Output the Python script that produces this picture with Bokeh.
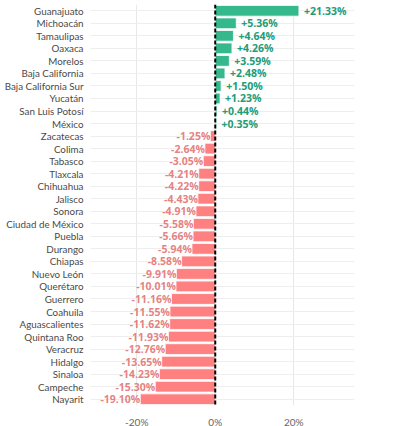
from bokeh.plotting import figure
from bokeh.models import ColumnDataSource, FactorRange, Span, FixedTicker, CustomJSTickFormatter
from bokeh.core.properties import value
from bokeh.embed import file_html
from bokeh.resources import INLINE

states = ["Guanajuato", "Michoacán", "Tamaulipas", "Oaxaca", "Morelos", "Baja California",
          "Baja California Sur", "Yucatán", "San Luis Potosí", "México", "Zacatecas", "Colima",
          "Tabasco", "Tlaxcala", "Chihuahua", "Jalisco", "Sonora", "Ciudad de México", "Puebla",
          "Durango", "Chiapas", "Nuevo León", "Querétaro", "Guerrero", "Coahuila",
          "Aguascalientes", "Quintana Roo", "Veracruz", "Hidalgo", "Sinaloa", "Campeche", "Nayarit"]
changes = [21.33, 5.36, 4.64, 4.26, 3.59, 2.48, 1.50, 1.23, 0.44, 0.35, -1.25, -2.64,
           -3.05, -4.21, -4.22, -4.43, -4.91, -5.58, -5.66, -5.94, -8.58, -9.91, -10.01,
           -11.16, -11.55, -11.62, -11.93, -12.76, -13.65, -14.23, -15.30, -19.10]
x_ticks = [-20, 0, 20]

POS_BAR, NEG_BAR = "#35b98c", "#ff8080"
POS_TXT, NEG_TXT = "#229c77", "#e27272"

labels = [f"{v:+.2f}%" for v in changes]
fills = [POS_BAR if v >= 0 else NEG_BAR for v in changes]
src = ColumnDataSource(dict(state=states, val=changes, zero=[0] * len(changes), fill=fills))
pos = ColumnDataSource(dict(state=[s for s, v in zip(states, changes) if v >= 0],
                            val=[v for v in changes if v >= 0],
                            label=[l for l, v in zip(labels, changes) if v >= 0]))
neg = ColumnDataSource(dict(state=[s for s, v in zip(states, changes) if v < 0],
                            val=[v for v in changes if v < 0],
                            label=[l for l, v in zip(labels, changes) if v < 0]))

p = figure(frame_width=264, frame_height=401, output_backend="svg", toolbar_location=None,
           y_range=FactorRange(*reversed(states), range_padding=0),
           x_range=(-31.8, 35.5), min_border_left=90, min_border_right=38,
           min_border_top=4, min_border_bottom=20)
p.outline_line_color = None
p.background_fill_color = "white"

p.hbar(y="state", left="zero", right="val", height=0.86, fill_color="fill",
       line_color="white", line_width=0.8, source=src)

p.text(x="val", y="state", text="label", source=pos, x_offset=5, text_align="left",
       text_baseline="middle", text_color=POS_TXT, text_font_size="10.5px",
       text_font=value("Open Sans"), text_font_style="bold")
p.text(x="val", y="state", text="label", source=neg, x_offset=0, text_align="right",
       text_baseline="middle", text_color=NEG_TXT, text_font_size="10.5px",
       text_font=value("Open Sans"), text_font_style="bold", text_alpha=0.9)

p.add_layout(Span(location=0, dimension="height", line_color="black",
                  line_width=2, line_dash="4 2"))

p.xaxis.ticker = FixedTicker(ticks=x_ticks)
p.xaxis.formatter = CustomJSTickFormatter(code="return tick + '%';")
for ax in (p.xaxis, p.yaxis):
    ax.axis_line_color = None
    ax.major_tick_line_color = None
    ax.minor_tick_line_color = None
    ax.major_label_text_font = "Lato"
p.yaxis.major_label_text_font_size = "9.8px"
p.xaxis.major_label_text_font_size = "10px"
p.xaxis.major_label_text_color = "#666666"
p.yaxis.major_label_text_color = "#4a4a4a"
p.yaxis.major_label_standoff = 1
p.xaxis.major_label_standoff = 4
p.xgrid.grid_line_color = "#e8e8e8"
p.ygrid.grid_line_color = "#eeeeee"

open("out.html", "w").write(file_html(p, INLINE))
